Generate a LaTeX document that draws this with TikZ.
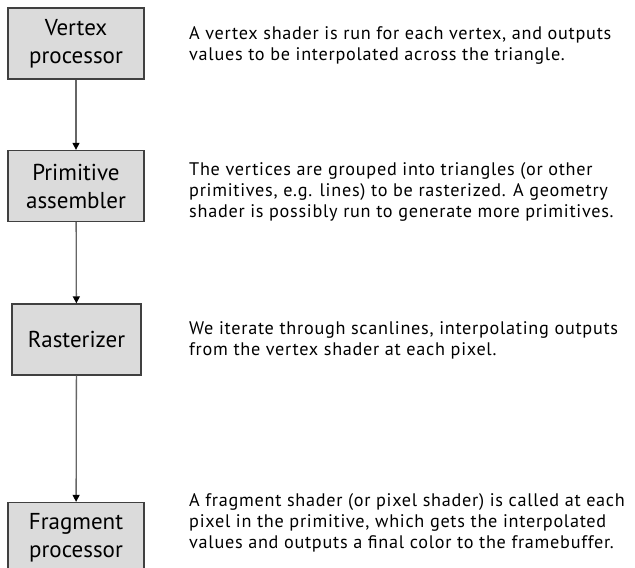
\documentclass[tikz,border=0pt]{standalone}
\usepackage{fontspec}
\setmainfont{PT Sans}
\newfontfamily\notefont{PT Sans}[LetterSpace=4]
\usepackage{tikz}
\usetikzlibrary{arrows.meta,positioning}
\usetikzlibrary{calc}

\begin{document}
\begin{tikzpicture}[x=1pt,y=-1pt,
  stage/.style={draw=black!75,line width=1.3pt,fill=black!14,minimum width=136pt,
    minimum height=71pt,inner sep=0pt,align=center,font=\fontsize{23}{28}\selectfont},
  note/.style={anchor=west,align=left,inner sep=0pt,font=\notefont\fontsize{18.2}{21}\selectfont},
  flow/.style={draw=black!60,line width=1.3pt,-{Triangle[length=7pt,width=7pt,color=black]}}]
\useasboundingbox (0,0) rectangle (635,568);
\node[stage] (vertex) at (76,43.5) {Vertex\\processor};
\node[stage] (assembler) at (76,186) {Primitive\\assembler};
\node[stage,minimum width=129pt] (raster) at (76.5,339.5) {Rasterizer};
\node[stage] (fragment) at (76,538) {Fragment\\processor};
\draw[flow] (vertex) -- (assembler);
\draw[flow] (assembler) -- (raster);
\draw[flow] (raster) -- (fragment);
\node[note] (vertexnote) at (189,45) {A vertex shader is run for each vertex, and outputs\\values to be interpolated across the triangle.};
\node[note] (assemblernote) at (189,192) {The vertices are grouped into triangles (or other\\primitives, e.g. lines) to be rasterized. A geometry\\shader is possibly run to generate more primitives.};
\node[note] (rasternote) at (189,340) {We iterate through scanlines, interpolating outputs\\from the vertex shader at each pixel.};
\node[note] (fragmentnote) at (189,523) {A fragment shader (or pixel shader) is called at each\\pixel in the primitive, which gets the interpolated\\values and outputs a final color to the framebuffer.};
\end{tikzpicture}
\end{document}
